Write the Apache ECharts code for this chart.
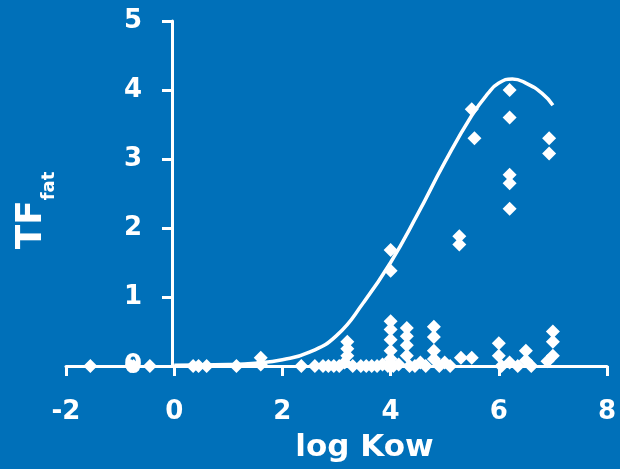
<!DOCTYPE html>
<html>
<head>
<meta charset="utf-8">
<script src="https://cdn.jsdelivr.net/npm/echarts@6/dist/echarts.min.js"></script>
<style>
html,body{margin:0;padding:0;background:#0070B9;}
#chart{width:620px;height:469px;}
</style>
</head>
<body>
<div id="chart"></div>
<script>
// Observed data points: [log Kow, TF fat]
const observedPoints = [
  [-1.55,0.0],[-0.8,0.0],[-0.75,0.0],[-0.45,0.0],[0.35,0.0],[0.45,0.0],[0.6,0.0],[1.15,0.0],
  [1.6,0.12],[1.6,0.02],[2.35,0.0],
  [2.6,0.0],[2.75,0.0],[2.85,0.0],[2.95,0.0],[3.05,0.0],[3.15,0.05],
  [3.2,0.35],[3.2,0.25],[3.2,0.15],[3.3,0.0],[3.45,0.0],[3.55,0.0],[3.65,0.0],[3.75,0.0],[3.85,0.02],[3.95,0.0],
  [4.0,1.68],[4.0,1.38],[4.0,0.65],[4.0,0.53],[4.0,0.38],[4.0,0.22],[4.0,0.1],[4.05,0.0],
  [4.15,0.02],[4.3,0.55],[4.3,0.43],[4.3,0.3],[4.3,0.15],[4.35,0.0],[4.45,0.0],[4.55,0.05],[4.65,0.0],
  [4.8,0.57],[4.8,0.42],[4.8,0.22],[4.8,0.1],[4.9,0.0],[5.0,0.05],[5.1,0.0],
  [5.27,1.88],[5.27,1.76],[5.3,0.12],[5.5,0.12],[5.5,3.72],[5.55,3.3],
  [6.0,0.33],[6.0,0.15],[6.05,0.0],
  [6.2,4.0],[6.2,3.6],[6.2,2.77],[6.2,2.65],[6.2,2.28],[6.2,0.05],[6.35,0.0],
  [6.5,0.22],[6.5,0.08],[6.6,0.0],[6.9,0.07],[6.93,3.3],[6.93,3.08],
  [7.0,0.5],[7.0,0.35],[7.0,0.15]
];
// Fitted curve
const curveX = [0, 1, 1.5, 2, 2.5, 3, 3.5, 4, 4.5, 5, 5.5, 5.8, 6.0, 6.25, 6.5, 6.8, 7.0];
const curveY = [0.01, 0.02, 0.04, 0.09, 0.2, 0.44, 0.92, 1.5, 2.2, 2.95, 3.63, 3.95, 4.1, 4.16, 4.1, 3.95, 3.78];
const xTicks = [-2, 0, 2, 4, 6, 8];
const yTicks = [0, 1, 2, 3, 4, 5];

const curveData = curveX.map((x, i) => [x, curveY[i]]);
const font = 'DejaVu Sans';
const chart = echarts.init(document.getElementById('chart'));
chart.setOption({
  backgroundColor: '#0070B9',
  animation: false,
  grid: {left: 66, right: 13, top: 21, bottom: 103, containLabel: false, outerBoundsMode: 'none'},
  xAxis: {
    type: 'value', min: xTicks[0], max: xTicks[xTicks.length-1], interval: 2,
    axisLine: {onZero: false, lineStyle: {color: '#fff', width: 3}},
    axisTick: {show: true, length: 10, lineStyle: {color: '#fff', width: 3}},
    axisLabel: {color: '#fff', fontSize: 26, fontWeight: 'bold', fontFamily: font, margin: 33},
    splitLine: {show: false},
    name: 'log Kow', nameLocation: 'middle', nameGap: 66,
    nameTextStyle: {color: '#fff', fontSize: 31, fontWeight: 'bold', fontFamily: font, padding: [0, 0, 0, 56]}
  },
  yAxis: {
    type: 'value', min: yTicks[0], max: yTicks[yTicks.length-1], interval: 1,
    offset: -106,
    axisLine: {onZero: false, lineStyle: {color: '#fff', width: 3}},
    axisTick: {show: true, length: 10, lineStyle: {color: '#fff', width: 3}},
    axisLabel: {color: '#fff', fontSize: 26, fontWeight: 'bold', fontFamily: font, margin: 30},
    splitLine: {show: false},
    name: '{a|TF}{b|fat}', nameLocation: 'middle', nameGap: 122, nameRotate: 90,
    nameTextStyle: {
      color: '#fff', fontFamily: font, fontWeight: 'bold', padding: [0, 34, 0, 0],
      rich: {
        a: {color: '#fff', fontSize: 36, fontWeight: 'bold', fontFamily: font, lineHeight: 36, verticalAlign: 'top'},
        b: {color: '#fff', fontSize: 18, fontWeight: 'bold', fontFamily: font, lineHeight: 18, padding: [26, 0, 0, 0], verticalAlign: 'top'}
      }
    }
  },
  series: [
    {
      type: 'line', data: curveData, smooth: true, showSymbol: false, symbol: 'none',
      lineStyle: {color: '#fff', width: 3.5}, z: 2
    },
    {
      type: 'scatter', data: observedPoints, symbol: 'diamond', symbolSize: [14, 14],
      itemStyle: {color: '#fff', opacity: 1}, z: 3
    }
  ]
});
</script>
</body>
</html>
